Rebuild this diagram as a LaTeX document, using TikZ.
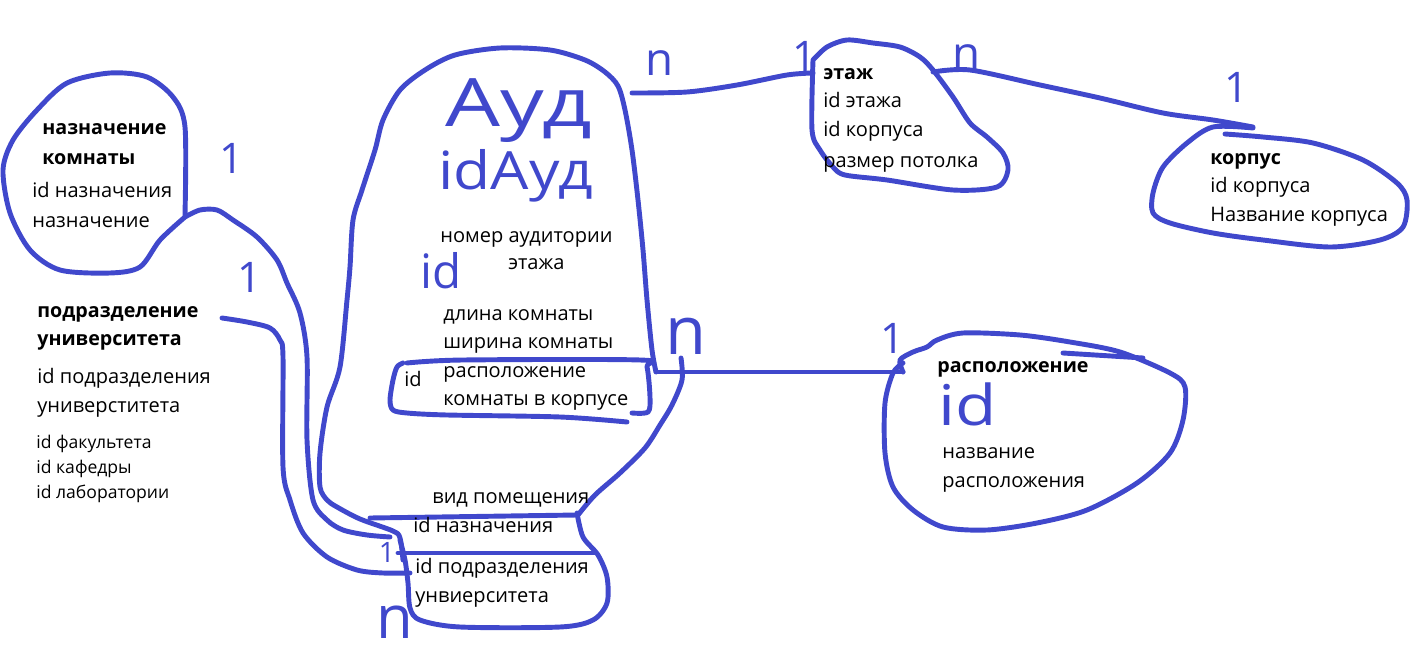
\documentclass[tikz,border=0pt]{standalone}
\usepackage{fontspec}
\setmainfont{Open Sans}
\usetikzlibrary{positioning}
\definecolor{PenBlue}{RGB}{64,72,204}
\tikzset{
  pen/.style={draw=PenBlue,line width=2.8pt,line cap=round,line join=round},
  attr/.style={anchor=base west,inner sep=0pt,font=\fontsize{11.4}{14}\selectfont},
  title/.style={anchor=base west,inner sep=0pt,font=\fontsize{11.2}{14}\selectfont\bfseries},
  minor/.style={anchor=base west,inner sep=0pt,font=\fontsize{10}{12}\selectfont},
  hand/.style={text=PenBlue,inner sep=0pt},
  mark1/.style={hand,font=\fontsize{24}{26}\selectfont},
  markn/.style={hand,font=\fontsize{26}{28}\selectfont}
}
\begin{document}
\begin{tikzpicture}[x=0.02cm,y=-0.02cm]
\useasboundingbox (0,0) rectangle (1416,672);

% назначение комнаты
\draw[pen] plot[smooth] coordinates {(185,215) (185,127) (173,97) (147,77) (110,73)
  (67,83) (37,110) (13,140) (3,170) (10,213) (30,250) (60,270) (110,273) (140,267)
  (160,240) (185,217)};
\node[title] (nazTitle) at (42,135) {назначение};
\node[title] (nazTitleB) at (42,165) {комнаты};
\node[attr] (nazId) at (32,198) {id назначения};
\node[attr] (nazName) at (32,228) {назначение};

% подразделение университета
\node[title] (podTitle) at (37,317) {подразделение};
\node[title] (podTitleB) at (37,345) {университета};
\node[attr] (podId) at (37,383) {id подразделения};
\node[attr] (podIdB) at (37,412) {универститета};
\node[minor] (podFac) at (36,448) {id факультета};
\node[minor] (podKaf) at (36,473) {id кафедры};
\node[minor] (podLab) at (36,498) {id лаборатории};

% связи слева
\draw[pen] plot[smooth] coordinates {(185,217) (200,210) (217,210) (233,220) (257,237)
  (277,260) (287,283) (300,313) (307,357) (307,440) (313,500) (327,520) (343,530)
  (367,535) (390,537)};
\draw[pen] plot[smooth] coordinates {(222,318) (247,322) (270,328) (280,340) (283,357)
  (283,467) (290,500) (303,533) (327,557) (357,570) (383,573) (410,573)};

% аудитория
\draw[pen] plot[smooth] coordinates {(403,560) (400,538) (393,531) (360,519) (337,507)
  (327,500) (320,487) (320,453) (327,407) (340,367) (347,300) (350,267) (353,220)
  (362,190) (375,150) (383,120) (400,90) (425,70) (455,55) (500,48) (550,50) (585,60)
  (605,72) (618,86) (625,110) (632,150) (638,200) (643,250) (647,300) (652,350)
  (656,372)};
\draw[pen] plot[smooth] coordinates {(681,358) (682,380) (672,405) (660,425) (645,448)
  (620,473) (595,495) (578,515)};
\draw[pen] plot[smooth] coordinates {(407,363) (463,360) (640,360) (647,367) (650,397)
  (648,412) (632,413)};
\draw[pen] plot[smooth] coordinates {(403,363) (397,367) (393,380) (390,400) (393,410)
  (407,413) (447,415) (560,417) (627,422)};
\node[hand,anchor=base west,font=\fontsize{38}{40}\selectfont] (audHand) at (445,127)
  {\scalebox{1.3}[1]{Ауд}};
\node[hand,anchor=base west,font=\fontsize{30}{32}\selectfont] (audIdHand) at (438,190)
  {\scalebox{1.15}[1]{idАуд}};
\node[attr] (audNum) at (440,242) {номер аудитории};
\node[hand,anchor=base west,font=\fontsize{27}{29}\selectfont] (audIdEt) at (420,288) {id};
\node[attr] (audEt) at (508,270) {этажа};
\node[attr] (audLen) at (443,320) {длина комнаты};
\node[attr] (audWid) at (443,348) {ширина комнаты};
\node[attr] (audIdRasp) at (404,386) {id};
\node[attr] (audRasp) at (443,377) {расположение};
\node[attr] (audRaspB) at (443,405) {комнаты в корпусе};

% вид помещения
\draw[pen] (370,518) -- (577,515);
\draw[pen] plot[smooth] coordinates {(577,513) (583,537) (598,555) (607,577) (607,603)
  (593,620) (560,627) (460,627) (420,620) (410,608) (408,583) (405,560) (400,540)};
\draw[pen] (398,553) -- (595,553);
\node[attr] (vidTitle) at (432,503) {вид помещения};
\node[attr] (vidNaz) at (413,532) {id назначения};
\node[attr] (vidPod) at (415,573) {id подразделения};
\node[attr] (vidPodB) at (415,602) {унвиерситета};

% этаж
\draw[pen] plot[smooth] coordinates {(632,93) (687,92) (737,85) (787,75) (813,73)};
\draw[pen] plot[smooth] coordinates {(813,60) (812,130) (820,150) (833,167) (845,175)
  (887,180) (953,190) (997,187) (1008,170) (1003,153) (987,137) (970,123) (953,97)
  (933,70) (920,57) (900,47) (873,43) (847,40) (827,47) (813,60)};
\node[title] (etTitle) at (823,80) {этаж};
\node[attr] (etId) at (823,108) {id этажа};
\node[attr] (etKorp) at (823,137) {id корпуса};
\node[attr] (etSize) at (823,168) {размер потолка};

% корпус
\draw[pen] plot[smooth] coordinates {(933,72) (970,70) (1040,85) (1100,98) (1163,113)
  (1213,120) (1253,127)};
\draw[pen] plot[smooth] coordinates {(1253,128) (1213,127) (1187,143) (1163,167)
  (1153,193) (1153,213) (1170,223) (1213,233) (1263,240) (1330,247) (1380,240)
  (1403,227) (1407,200) (1397,183) (1363,160) (1313,143) (1263,137) (1225,134)};
\node[title] (korpTitle) at (1210,165) {корпус};
\node[attr] (korpId) at (1210,193) {id корпуса};
\node[attr] (korpName) at (1210,222) {Название корпуса};

% расположение
\draw[pen] (656,372) -- (903,372);
\draw[pen] plot[smooth] coordinates {(903,372) (900,360) (913,352) (927,347) (937,340)
  (963,333) (1020,335) (1070,342) (1120,352) (1170,373) (1185,387) (1183,420)
  (1170,453) (1137,483) (1087,510) (1037,523) (987,530) (943,527) (913,510)
  (893,487) (885,453) (885,403) (893,373) (903,363)};
\draw[pen] (1063,353) -- (1143,358);
\node[title] (raspTitle) at (937,372) {расположение};
\node[hand,anchor=base west,font=\fontsize{32}{34}\selectfont] (raspId) at (938,425)
  {\scalebox{1.2}[1]{id}};
\node[attr] (raspName) at (942,458) {название};
\node[attr] (raspNameB) at (942,487) {расположения};

% кратности
\node[mark1] (m1naz) at (232,158) {1};
\node[mark1] (m1pod) at (250,277) {1};
\node[markn] (mnAudEt) at (660,63) {n};
\node[mark1] (m1Et) at (805,56) {1};
\node[markn] (mnEt) at (967,57) {n};
\node[mark1] (m1Korp) at (1237,87) {1};
\node[hand,font=\fontsize{38}{40}\selectfont] (mnAudRasp) at (686,336) {n};
\node[mark1] (m1Rasp) at (893,338) {1};
\node[hand,font=\fontsize{16}{18}\selectfont] (m1Vid) at (387,552) {1};
\node[hand,font=\fontsize{34}{36}\selectfont] (mnVid) at (395,622) {n};
\end{tikzpicture}
\end{document}
